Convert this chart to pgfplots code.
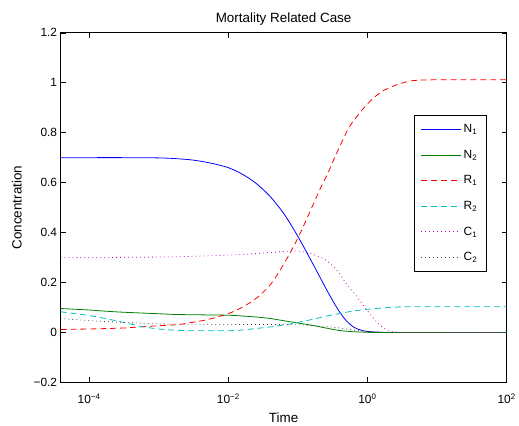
\documentclass[border=0pt]{standalone}
\usepackage{fontspec}
\setmainfont{Liberation Sans}
\usepackage{pgfplots}
\pgfplotsset{compat=1.18}
\definecolor{mgreen}{rgb}{0,0.5,0}
\definecolor{mcyan}{rgb}{0,0.75,0.75}
\definecolor{mmag}{rgb}{0.75,0,0.75}
\definecolor{mblack}{rgb}{0.25,0.25,0.25}
\begin{document}
\begin{tikzpicture}
\begin{axis}[
  scale only axis,
  width=449pt, height=352pt,
  xmode=log,
  xmin=3.89e-5, xmax=100,
  ymin=-0.2, ymax=1.2,
  xtick={1e-4,1e-2,1,100},
  xticklabels={10\textsuperscript{−4},10\textsuperscript{−2},10\textsuperscript{0},10\textsuperscript{2}},
  xminorticks=false,
  ytick={-0.2,0,0.2,0.4,0.6,0.8,1,1.2},
  yticklabels={−0.2,0,0.2,0.4,0.6,0.8,1,1.2},
  tick align=inside,
  tick pos=both,
  major tick length=5pt,
  axis line style={line width=0.8pt},
  every tick/.style={black, line width=0.5pt},
  tick label style={font=\fontsize{12}{14}\selectfont},
  xticklabel style={yshift=-8pt},
  title={Mortality Related Case},
  title style={font=\fontsize{13.5}{16}\selectfont, yshift=-2pt},
  xlabel={Time},
  ylabel={Concentration},
  label style={font=\fontsize{13.5}{16}\selectfont},
  xlabel style={yshift=-2pt},
  ylabel style={yshift=5pt},
  legend style={at={(0.955,0.764)}, anchor=north east, line width=0.8pt,
    font=\fontsize{12}{14}\selectfont, row sep=12pt, inner xsep=7pt, inner ysep=7pt,
    cells={anchor=west}},
  legend image code/.code={\draw[#1, line width=1pt] (0pt,0pt) -- (40pt,0pt);},
  every axis plot/.append style={line width=0.8pt},
]
\addplot[blue, smooth, tension=0.5] coordinates {
(3.89e-5,0.700) (1e-4,0.700) (3.162e-4,0.700) (1e-3,0.699) (1.778e-3,0.696) (3.162e-3,0.690) (5.623e-3,0.678)
(1e-2,0.660) (1.585e-2,0.634) (2.512e-2,0.597) (3.981e-2,0.545) (6.310e-2,0.475) (0.1,0.385)
(0.1585,0.283) (0.2512,0.178) (0.3162,0.128) (0.3981,0.082) (0.5012,0.046) (0.6310,0.022) (0.7943,0.010)
(1,0.004) (1.585,0.001) (2.512,0) (100,0)};
\addlegendentry{N\textsubscript{1}}
\addplot[mgreen, smooth, tension=0.5] coordinates {
(3.89e-5,0.096) (1e-4,0.090) (1.778e-4,0.085) (3.162e-4,0.081) (1e-3,0.075) (1.778e-3,0.072) (3.162e-3,0.071)
(1e-2,0.069) (1.585e-2,0.066) (2.512e-2,0.062) (3.981e-2,0.056) (6.310e-2,0.047) (0.1,0.038)
(0.1585,0.029) (0.2512,0.018) (0.3981,0.008) (0.6310,0.003) (1,0.001) (1.585,0) (100,0)};
\addlegendentry{N\textsubscript{2}}
\addplot[red, dash pattern=on 6pt off 4pt, smooth, tension=0.5] coordinates {
(3.89e-5,0.012) (1e-4,0.014) (3.162e-4,0.018) (6.457e-4,0.024) (1e-3,0.027) (1.950e-3,0.032) (2.951e-3,0.040)
(5.129e-3,0.052) (9.120e-3,0.072) (1.380e-2,0.092) (2.399e-2,0.132) (3.981e-2,0.190) (6.310e-2,0.275)
(0.1,0.378) (0.1585,0.500) (0.2153,0.583) (0.2685,0.636) (0.3412,0.703) (0.4395,0.769) (0.5470,0.822)
(0.7194,0.868) (1,0.915) (1.549,0.962) (2.541,0.990) (4.159,1.007) (6.808,1.011) (15.85,1.012) (100,1.012)};
\addlegendentry{R\textsubscript{1}}
\addplot[mcyan, dash pattern=on 6pt off 4pt, smooth, tension=0.5] coordinates {
(3.89e-5,0.083) (6.310e-5,0.075) (1e-4,0.068) (1.778e-4,0.055) (3.162e-4,0.040) (5.623e-4,0.024)
(1e-3,0.014) (1.778e-3,0.009) (3.162e-3,0.007) (1e-2,0.007) (1.585e-2,0.010) (2.512e-2,0.016)
(3.981e-2,0.022) (6.310e-2,0.030) (0.1,0.040) (0.1585,0.052) (0.2512,0.065) (0.3981,0.076)
(0.6310,0.086) (1,0.093) (1.585,0.098) (2.512,0.101) (3.981,0.103) (100,0.103)};
\addlegendentry{R\textsubscript{2}}
\addplot[mmag, dash pattern=on 0.8pt off 3.2pt, smooth, tension=0.5] coordinates {
(3.89e-5,0.300) (1e-4,0.300) (1e-3,0.302) (3.162e-3,0.305) (1e-2,0.310) (1.995e-2,0.314) (3.981e-2,0.320)
(6.310e-2,0.324) (0.1,0.326) (0.1585,0.315) (0.2512,0.290) (0.3715,0.246) (0.5129,0.190) (0.6310,0.160)
(0.7244,0.139) (1,0.087) (1.380,0.040) (1.585,0.025) (1.950,0.008) (2.512,0.002) (3.981,0) (100,0)};
\addlegendentry{C\textsubscript{1}}
\addplot[mblack, dash pattern=on 0.8pt off 3.2pt, smooth, tension=0.5] coordinates {
(3.89e-5,0.056) (1e-4,0.048) (3.162e-4,0.040) (1e-3,0.035) (3.162e-3,0.033) (1e-2,0.032) (3.162e-2,0.032)
(0.1,0.031) (0.1585,0.028) (0.2512,0.024) (0.3981,0.018) (0.6310,0.010) (1,0.004) (1.585,0.001) (2.512,0) (100,0)};
\addlegendentry{C\textsubscript{2}}
\end{axis}
\path ([shift={(-61pt,-39pt)}]current axis.south west) rectangle ([shift={(9pt,33pt)}]current axis.north east);
\end{tikzpicture}
\end{document}
